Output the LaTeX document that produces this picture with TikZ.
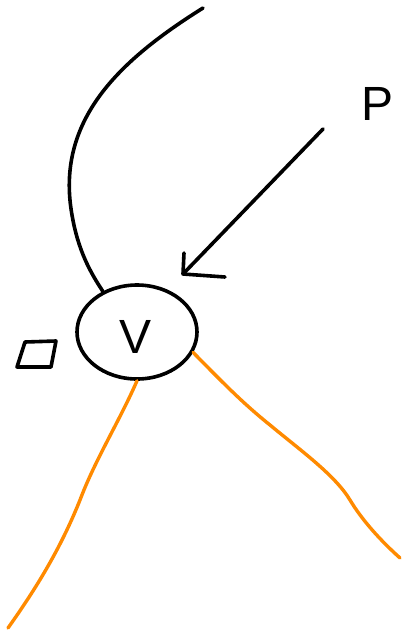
\documentclass[tikz,border=0pt]{standalone}
\usepackage{fontspec}
\setmainfont{Liberation Sans}
\usetikzlibrary{shapes.geometric,arrows.meta}
\definecolor{inkorange}{HTML}{FF8A00}
\tikzset{
  ink/.style={line width=3.6pt, line cap=round, line join=round, black},
  orangeink/.style={line width=3.4pt, line cap=round, line join=round, inkorange},
  bubble/.style={ellipse, draw, ink, minimum width=120pt, minimum height=94pt, inner sep=0pt},
  lbl/.style={font=\fontsize{48}{48}\selectfont, inner sep=0pt}
}
\begin{document}
\begin{tikzpicture}[x=1pt,y=-1pt]
\useasboundingbox (0,0) rectangle (403,633);
\node[bubble] (v) at (137,332) {};
\node[lbl] (vl) at (136,337) {V};
\node[lbl] (p) at (378,104) {P};
% small square
\coordinate (s1) at (25,342);
\coordinate (s2) at (56,341);
\coordinate (s3) at (51,367);
\coordinate (s4) at (17,367);
\draw[ink] (s1) -- (s2) -- (s3) -- (s4) -- cycle;
% top curve
\coordinate (top) at (203,8);
\draw[ink] (top) .. controls (120,60) and (55,120) .. (72,215)
  .. controls (78,250) and (90,272) .. (v.130);
% arrow P
\coordinate (a0) at (323,129);
\coordinate (tip) at (183,274);
\coordinate (h1) at (184,253);
\coordinate (h2) at (225,277);
\draw[ink] (a0) -- (tip);
\draw[ink] (h1) -- (tip) -- (h2);
% orange lines
\coordinate (o1) at (8,628);
\coordinate (o2) at (400,558);
\draw[orangeink] (v.south) .. controls (120,420) and (95,460) .. (80,500)
  .. controls (60,550) and (35,590) .. (o1);
\draw[orangeink] (v.-20) .. controls (225,385) and (245,405) .. (270,425)
  .. controls (300,450) and (335,475) .. (350,500)
  .. controls (362,520) and (380,540) .. (o2);
\end{tikzpicture}
\end{document}
